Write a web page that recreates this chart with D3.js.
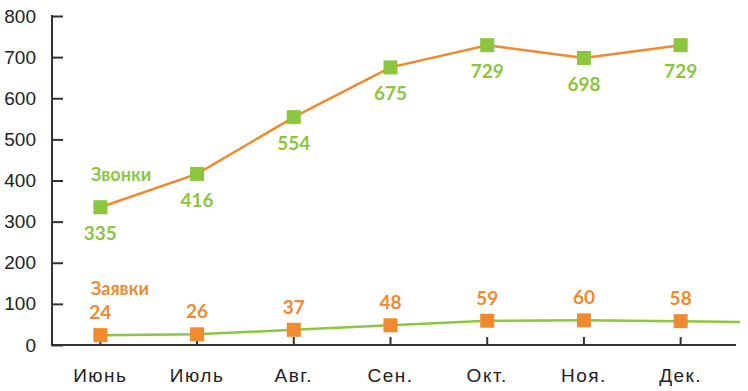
<!DOCTYPE html>
<html>
<head>
<meta charset="utf-8">
<script src="https://cdn.jsdelivr.net/npm/d3@7"></script>
<style>
  body { margin: 0; background: #fff; }
  svg { display: block; font-family: Lato, "Noto Sans", sans-serif; }
  .axis text { font-size: 19px; fill: #222; font-weight: 300; }
  .axis.x text { letter-spacing: 1.5px; }
  .axis path, .axis line { stroke: #333; stroke-width: 2; }
  .val { font-size: 19px; font-weight: 700; text-anchor: middle; }
  .series-label { font-size: 18px; font-weight: 700; }
</style>
</head>
<body>
<div id="chart"></div>
<script>
const months = ['Июнь', 'Июль', 'Авг.', 'Сен.', 'Окт.', 'Ноя.', 'Дек.'];
const zvonki = [335, 416, 554, 675, 729, 698, 729];
const zayavki = [24, 26, 37, 48, 59, 60, 58];
const zayavkiTail = 56; // line runs on past Dec. to the end of the axis
const yTicks = [0, 100, 200, 300, 400, 500, 600, 700, 800];

const green = '#8cc63e';
const orange = '#ef8a2f';

const w = 748, h = 391;
const left = 52, axisEnd = 736;

const svg = d3.select('#chart').append('svg')
  .attr('width', w)
  .attr('height', h);

const x = d3.scaleBand()
  .domain(months)
  .range([left, 729]);

const cx = m => x(m) + x.bandwidth() / 2;

const y = d3.scaleLinear()
  .domain([0, 800])
  .range([345, 16]);

// y axis, ticks pointing inward
const yAxis = svg.append('g')
  .attr('class', 'axis y')
  .attr('transform', `translate(${left},0)`)
  .call(d3.axisLeft(y).tickValues(yTicks).tickSize(-11).tickSizeOuter(0).tickPadding(16));
yAxis.select('.domain').remove();
yAxis.append('line')
  .attr('y1', y(800) - 1).attr('y2', y(0) + 1);

// x axis
const xAxis = svg.append('g')
  .attr('class', 'axis x')
  .attr('transform', `translate(0,${y(0)})`)
  .call(d3.axisBottom(x).tickSize(-8).tickSizeOuter(0).tickPadding(24));
xAxis.select('.domain').remove();
xAxis.append('line')
  .attr('x1', left).attr('x2', axisEnd);

const line = d3.line()
  .x(d => d[0])
  .y(d => y(d[1]));

// Заявки: green line, orange squares
const zayPts = months.map((m, i) => [cx(m), zayavki[i]]);
zayPts.push([axisEnd + 4, zayavkiTail]);
svg.append('path')
  .attr('d', line(zayPts))
  .attr('fill', 'none')
  .attr('stroke', green)
  .attr('stroke-width', 2.5);

// Звонки: orange line, green squares
svg.append('path')
  .attr('d', line(months.map((m, i) => [cx(m), zvonki[i]])))
  .attr('fill', 'none')
  .attr('stroke', orange)
  .attr('stroke-width', 2.5);

const sq = 14;

svg.append('g').selectAll('rect')
  .data(zayavki)
  .join('rect')
  .attr('x', (d, i) => cx(months[i]) - sq / 2)
  .attr('y', d => y(d) - sq / 2)
  .attr('width', sq).attr('height', sq)
  .attr('fill', orange);

svg.append('g').selectAll('rect')
  .data(zvonki)
  .join('rect')
  .attr('x', (d, i) => cx(months[i]) - sq / 2)
  .attr('y', d => y(d) - sq / 2)
  .attr('width', sq).attr('height', sq)
  .attr('fill', green);

// value labels
svg.append('g').selectAll('text')
  .data(zvonki)
  .join('text')
  .attr('class', 'val')
  .attr('x', (d, i) => cx(months[i]))
  .attr('y', d => y(d) + 33)
  .attr('fill', green)
  .text(d => d);

svg.append('g').selectAll('text')
  .data(zayavki)
  .join('text')
  .attr('class', 'val')
  .attr('x', (d, i) => cx(months[i]))
  .attr('y', d => y(d) - 16)
  .attr('fill', orange)
  .text(d => d);

// series names
svg.append('text')
  .attr('class', 'series-label')
  .attr('x', 91).attr('y', 181)
  .attr('fill', green)
  .text('Звонки');

svg.append('text')
  .attr('class', 'series-label')
  .attr('x', 91).attr('y', 295)
  .attr('fill', orange)
  .text('Заявки');
</script>
</body>
</html>
